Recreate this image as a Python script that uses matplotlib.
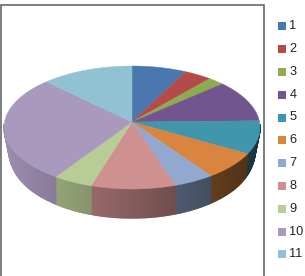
import numpy as np
import matplotlib
matplotlib.use('Agg')
import matplotlib.pyplot as plt
from matplotlib.patches import Polygon, Rectangle

# Slice values and legend labels
labels = ['1', '2', '3', '4', '5', '6', '7', '8', '9', '10', '11']
values = [6.9, 3.5, 2.1, 10.8, 8.8, 7.4, 5.1, 10.7, 5.0, 28.2, 11.7]
colors = ['#4a78ae', '#b54a4a', '#8fab50', '#72558f', '#3f96ad', '#d9843f',
          '#92a8cf', '#cf9190', '#b8cc95', '#a899bd', '#90c2d4']

W, H = 305, 276
cx, cy = 132, 127.5   # rim ellipse centre
apex_y = 122          # where the slices meet on the top face
rx, ry = 128, 61.5


def rim(t):
    return cx + rx * np.sin(t), cy - ry * np.cos(t)


def base(t):
    # lower edge of the wall: taller at the front, pulled in at the sides
    x = cx + rx * np.sin(t) * (1 - 0.035 * np.sin(t) ** 6)
    y = cy - ry * np.cos(t) + 20 - 9 * np.cos(t)
    return x, y


fig = plt.figure(figsize=(W / 100, H / 100), dpi=100)
ax = fig.add_axes([0, 0, 1, 1])
ax.set_xlim(0, W)
ax.set_ylim(H, 0)
ax.axis('off')

fractions = np.array(values) / sum(values)
edges = np.concatenate([[0], np.cumsum(fractions)]) * 2 * np.pi

# side wall, only the front half of the rim is visible
for i, col in enumerate(colors):
    rgb = np.array(matplotlib.colors.to_rgb(col))
    ts = np.linspace(edges[i], edges[i + 1], 60)
    for a, b in zip(ts[:-1], ts[1:]):
        if np.cos((a + b) / 2) > 0.05:
            continue
        xm = (rim(a)[0] + rim(b)[0]) / 2
        shade = 0.92 - 0.57 * (xm - cx + rx) / (2 * rx)
        ax.add_patch(Polygon([rim(a), rim(b), base(b), base(a)],
                             closed=True, fc=rgb * shade, ec=rgb * shade, lw=1.0, zorder=2))

# top face
for i, col in enumerate(colors):
    ts = np.linspace(edges[i], edges[i + 1], 60)
    xs, ys = rim(ts)
    pts = [(cx, apex_y)] + list(zip(xs, ys))
    ax.add_patch(Polygon(pts, closed=True, fc=col, ec=col, lw=0.3, zorder=3))

# chart frame, the bottom edge runs off the image
ax.plot([0.7, 0.7, 264, 264], [H + 2, 4.5, 4.5, H + 2], color='#5a5a5a', lw=1.1, zorder=5,
        solid_joinstyle='miter')

# legend
for i, (lab, col) in enumerate(zip(labels, colors)):
    y = 26.3 + i * 22.8
    ax.add_patch(Rectangle((277.5, y - 4), 8, 8, fc=col, ec='none', zorder=4))
    ax.text(289.5, y, lab, fontsize=9.2, family='Liberation Sans', color='#222222',
            va='center', ha='left', zorder=4)

fig.savefig('out.png', dpi=100)
